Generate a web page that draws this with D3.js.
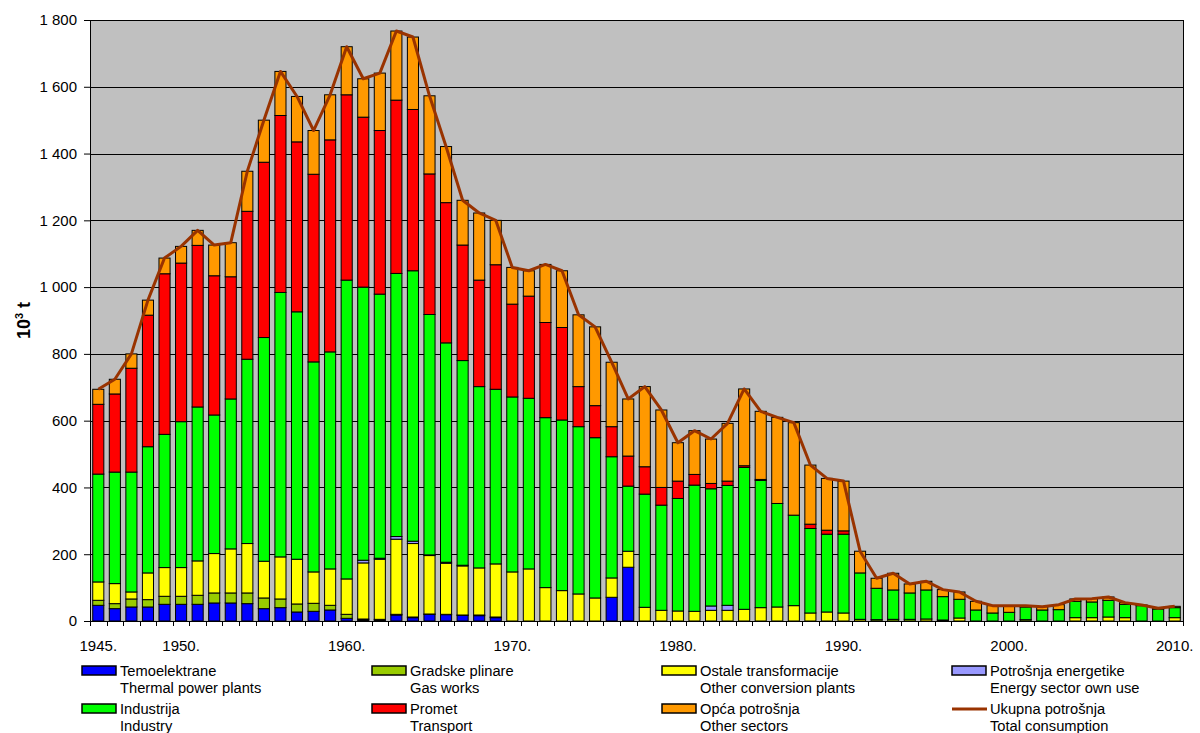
<!DOCTYPE html>
<html>
<head>
<meta charset="utf-8">
<script src="https://cdn.jsdelivr.net/npm/d3@7"></script>
<style>
  body { margin: 0; background: #fff; }
  text { font-family: "Liberation Sans", Arial, sans-serif; fill: #000; }
</style>
</head>
<body>
<svg id="chart" width="1200" height="733"></svg>
<script>
// Years on the x axis
var years = d3.range(1945, 2011);
var labelYears = [1945, 1950, 1960, 1970, 1980, 1990, 2000, 2010];

// Series values, 10^3 t
var thermal = [47,37,42,42,50,50,50,54,54,52, 37,40,27,29,33,8,3,3,18,10, 20,19,17,16,10,0,0,0,0,0, 0,71,161,0,0,0,0,0,0,0, 0,0,0,0,0,0,0,0,0,0, 0,0,0,0,0,0,0,0,0,0, 0,0,0,0,0,0];
var gasWorks = [15,15,24,22,24,24,27,30,30,32, 32,26,24,24,14,12,3,2,2,2, 1,1,1,2,2,0,0,0,0,0, 0,0,0,0,0,0,0,0,0,0, 0,0,0,0,0,0,0,4,5,5, 0,0,0,0,0,0,4,0,0,0, 0,0,0,0,0,0];
var otherConv = [55,60,21,80,86,86,103,118,132,148, 110,126,134,94,109,106,168,180,225,220, 175,153,147,141,159,147,156,100,91,81, 69,58,48,41,32,30,29,32,32,35, 40,42,46,24,27,24,5,0,0,0, 6,3,9,0,0,0,0,0,0,10, 10,12,10,0,0,10];
var energyOwn = [0,0,0,0,0,0,0,0,0,0, 0,0,0,0,0,0,8,3,8,7, 2,3,2,0,0,0,0,0,0,0, 0,0,0,0,0,0,0,13,15,0, 0,0,0,0,0,0,0,0,0,0, 0,0,0,0,0,0,0,0,0,0, 0,0,0,0,0,0];
var industry = [323,334,359,378,399,437,461,415,449,552, 670,792,741,629,650,895,818,791,788,810, 720,657,613,543,523,524,511,509,511,501, 480,363,195,339,315,337,378,351,359,425, 381,310,271,253,233,236,139,94,88,79, 87,70,56,33,24,26,38,33,34,49, 47,50,40,46,36,30];
var transport = [209,234,311,394,481,475,484,417,366,443, 525,530,509,562,635,555,509,490,519,483, 421,420,346,319,373,278,306,285,277,120, 96,90,90,82,53,52,32,16,13,5, 3,0,0,13,12,10,0,0,0,0, 0,0,0,0,0,0,0,0,0,0, 0,0,0,0,0,0];
var otherSectors = [45,44,43,45,47,50,45,92,102,120, 126,132,136,131,135,144,115,172,207,217, 234,168,134,201,133,110,76,174,170,215, 236,193,171,240,232,115,131,133,173,230, 204,258,277,177,155,149,65,30,50,27, 26,21,22,26,22,20,4,10,15,7, 10,10,5,2,2,4];

var seriesKeys = ["thermal", "gasWorks", "otherConv", "energyOwn", "industry", "transport", "otherSectors"];
var seriesData = [thermal, gasWorks, otherConv, energyOwn, industry, transport, otherSectors];
var seriesColors = ["#0000FF", "#99CC00", "#FFFF00", "#9999FF", "#00FF00", "#FF0000", "#FF9900"];
var lineColor = "#993300";

var legendLine1 = ["Temoelektrane", "Gradske plinare", "Ostale transformacije", "Potrošnja energetike",
                   "Industrija", "Promet", "Opća potrošnja", "Ukupna potrošnja"];
var legendLine2 = ["Thermal power plants", "Gas works", "Other conversion plants", "Energy sector own use",
                   "Industry", "Transport", "Other sectors", "Total consumption"];
// legend order: four series in row one, then industry, transport, other sectors, total line
var legendSeries = [0, 1, 2, 3, 4, 5, 6, -1];

var yTicks = [0, 200, 400, 600, 800, 1000, 1200, 1400, 1600, 1800];

// Build rows for the stack
var rows = years.map(function (yr, i) {
    var r = { year: yr };
    seriesKeys.forEach(function (k, j) { r[k] = seriesData[j][i]; });
    return r;
});
var totals = rows.map(function (r) {
    return { year: r.year, value: d3.sum(seriesKeys, function (k) { return r[k]; }) };
});

var width = 1200, height = 733;
var margin = { top: 20, right: 17, bottom: 112, left: 90 };
var plotW = width - margin.left - margin.right;
var plotH = height - margin.top - margin.bottom;

var svg = d3.select("#chart");
var g = svg.append("g").attr("transform", "translate(" + margin.left + "," + margin.top + ")");

var x = d3.scaleBand().domain(years).range([0, plotW]).paddingInner(0.33).paddingOuter(0.165);
var y = d3.scaleLinear().domain([0, 1800]).range([plotH, 0]);

var fmt = d3.formatLocale({ thousands: " ", grouping: [3], decimal: ",", currency: ["", ""] }).format(",d");

// Plot background
g.append("rect")
    .attr("width", plotW).attr("height", plotH)
    .attr("fill", "#C0C0C0");

// Gridlines
g.selectAll(".grid")
    .data(yTicks.filter(function (d) { return d > 0; }))
    .enter().append("line")
    .attr("x1", 0).attr("x2", plotW)
    .attr("y1", function (d) { return Math.round(y(d)) + 0.5; })
    .attr("y2", function (d) { return Math.round(y(d)) + 0.5; })
    .attr("stroke", "#000").attr("stroke-width", 1);

// Right border
g.append("line")
    .attr("x1", plotW + 0.5).attr("x2", plotW + 0.5)
    .attr("y1", 0).attr("y2", plotH)
    .attr("stroke", "#000");

// Stacked bars
var stack = d3.stack().keys(seriesKeys);
var layers = g.selectAll(".layer")
    .data(stack(rows))
    .enter().append("g")
    .attr("fill", function (d, i) { return seriesColors[i]; });

layers.selectAll("rect")
    .data(function (d) { return d.filter(function (s) { return s[1] - s[0] > 0; }); })
    .enter().append("rect")
    .attr("x", function (d) { return x(d.data.year); })
    .attr("width", x.bandwidth())
    .attr("y", function (d) { return y(d[1]); })
    .attr("height", function (d) { return y(d[0]) - y(d[1]); })
    .attr("stroke", "#000")
    .attr("stroke-width", 1);

// Total line
var line = d3.line()
    .x(function (d) { return x(d.year) + x.bandwidth() / 2; })
    .y(function (d) { return y(d.value); });

g.append("path")
    .datum(totals)
    .attr("d", line)
    .attr("fill", "none")
    .attr("stroke", lineColor)
    .attr("stroke-width", 3)
    .attr("stroke-linejoin", "round");

// Y axis
var yAxis = d3.axisLeft(y).tickValues(yTicks).tickFormat(fmt).tickSize(6).tickPadding(7);
var yg = g.append("g").call(yAxis);
yg.select(".domain").attr("stroke", "#000");
yg.selectAll("text").style("font-size", "15px").style("font-family", "'Liberation Sans', Arial, sans-serif");

// X axis: ticks at every band boundary
var step = x.step();
var edges = years.map(function (yr) { return x(yr) - (step - x.bandwidth()) / 2; });
edges.push(plotW);
var xg = g.append("g").attr("transform", "translate(0," + plotH + ")");
xg.append("line").attr("x1", 0).attr("x2", plotW).attr("y1", 0.5).attr("y2", 0.5).attr("stroke", "#000");
xg.selectAll(".tick")
    .data(edges)
    .enter().append("line")
    .attr("x1", function (d) { return Math.round(d) + 0.5; })
    .attr("x2", function (d) { return Math.round(d) + 0.5; })
    .attr("y1", 0).attr("y2", 5)
    .attr("stroke", "#000");
xg.selectAll(".xlabel")
    .data(labelYears)
    .enter().append("text")
    .attr("x", function (d) { return x(d) + x.bandwidth() / 2; })
    .attr("y", 30)
    .attr("text-anchor", "middle")
    .style("font-size", "15px")
    .text(function (d) { return d + "."; });

// Y axis title
var yt = svg.append("text")
    .attr("transform", "translate(30," + (margin.top + plotH / 2) + ") rotate(-90)")
    .attr("text-anchor", "middle")
    .style("font-size", "18px")
    .style("font-weight", "bold");
yt.append("tspan").text("10");
yt.append("tspan").attr("dy", -7).style("font-size", "11px").text("3");
yt.append("tspan").attr("dy", 7).text(" t");

// Legend
var legX = [82, 372, 662, 952];
var legY = [666, 704];
var legendItems = legendLine1.map(function (t, i) {
    var s = legendSeries[i];
    return { l1: t, l2: legendLine2[i], color: s >= 0 ? seriesColors[s] : null };
});

var leg = svg.append("g");
var item = leg.selectAll(".leg")
    .data(legendItems)
    .enter().append("g")
    .attr("transform", function (d, i) { return "translate(" + legX[i % 4] + "," + legY[Math.floor(i / 4)] + ")"; });

item.each(function (d) {
    var s = d3.select(this);
    if (d.color) {
        s.append("rect")
            .attr("x", 0).attr("y", 0)
            .attr("width", 34).attr("height", 9)
            .attr("fill", d.color)
            .attr("stroke", "#000").attr("stroke-width", 1.5);
    } else {
        s.append("line")
            .attr("x1", 0).attr("x2", 35)
            .attr("y1", 5).attr("y2", 5)
            .attr("stroke", lineColor).attr("stroke-width", 3);
    }
});
item.append("text")
    .attr("x", 38).attr("y", 10)
    .style("font-size", "14.7px")
    .text(function (d) { return d.l1; });
item.append("text")
    .attr("x", 38).attr("y", 27)
    .style("font-size", "14.7px")
    .text(function (d) { return d.l2; });
</script>
</body>
</html>
